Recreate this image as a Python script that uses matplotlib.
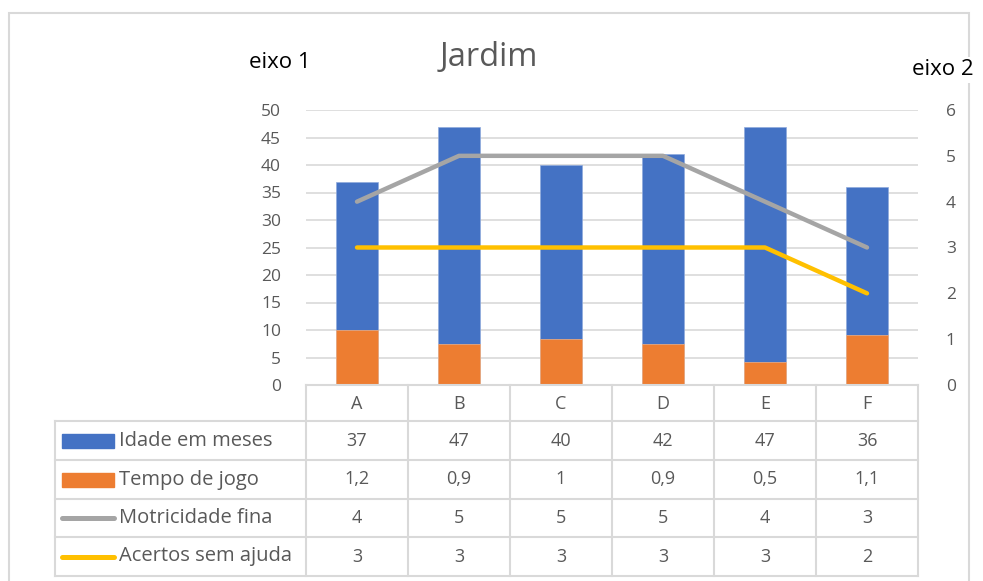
import matplotlib
matplotlib.use("Agg")
import matplotlib.pyplot as plt
from matplotlib.lines import Line2D
from matplotlib.patches import Rectangle

categories = ["A", "B", "C", "D", "E", "F"]
idade = [37, 47, 40, 42, 47, 36]
tempo = [1.2, 0.9, 1, 0.9, 0.5, 1.1]
motricidade = [4, 5, 5, 5, 4, 3]
acertos = [3, 3, 3, 3, 3, 2]
series_names = ["Idade em meses", "Tempo de jogo", "Motricidade fina", "Acertos sem ajuda"]
y1_ticks = list(range(0, 51, 5))
y2_ticks = list(range(0, 7))

BLUE = "#4472C4"
ORANGE = "#ED7D31"
GRAY = "#A5A5A5"
YELLOW = "#FFC000"
TXT = "#595959"
GRID = "#D9D9D9"
FONT = ["Open Sans", "DejaVu Sans"]
plt.rcParams["font.family"] = FONT

W, H = 983, 581
fig = plt.figure(figsize=(W / 100, H / 100), dpi=100)

def fx(px):
    return px / W

def fy(py):
    return 1 - py / H

# outer border
border = fig.add_axes([0, 0, 1, 1], zorder=-5)
border.set_xlim(0, W)
border.set_ylim(H, 0)
border.axis("off")
border.plot([9, 9, 969, 969], [H + 5, 13, 13, H + 5], color="#D9D9D9", lw=1.5,
            solid_joinstyle="miter")

left_px, right_px, top_px, bot_px = 306, 918, 110, 385
ax = fig.add_axes([fx(left_px), fy(bot_px), fx(right_px - left_px), (bot_px - top_px) / H])
x = list(range(len(categories)))
ax.bar(x, idade, width=0.41, color=BLUE, edgecolor="#8FAADC", linewidth=0.5, zorder=2)
ax.set_xlim(-0.5, len(categories) - 0.5)
ax.set_ylim(0, 50)
ax.set_yticks(y1_ticks)
ax.set_xticks([])
ax.grid(axis="y", color=GRID, lw=1.2, zorder=0)
ax.set_axisbelow(True)
for s in ax.spines.values():
    s.set_visible(False)
ax.tick_params(axis="y", length=0, labelsize=12.5, labelcolor=TXT, pad=18)

ax2 = ax.twinx()
ax2.bar(x, tempo, width=0.41, color=ORANGE, edgecolor="#F4B183", linewidth=0.5, zorder=3)
ax2.plot(x, motricidade, color=GRAY, lw=3.2, solid_capstyle="round", zorder=4)
ax2.plot(x, acertos, color=YELLOW, lw=3.2, solid_capstyle="round", zorder=5)
ax2.set_ylim(0, 6)
ax2.set_yticks(y2_ticks)
for s in ax2.spines.values():
    s.set_visible(False)
ax2.tick_params(axis="y", length=0, labelsize=12.5, labelcolor=TXT, pad=20)

fig.text(fx(489), fy(57), "Jardim", ha="center", va="center", fontsize=23.5, color=TXT)
fig.text(fx(280), fy(62), "eixo 1", ha="center", va="center", fontsize=16, color="black")
fig.text(fx(943), fy(70), "eixo 2", ha="center", va="center", fontsize=16, color="black",
         bbox=dict(facecolor="white", edgecolor="none", pad=2))

# data table
tab = fig.add_axes([0, 0, 1, 1], zorder=3)
tab.set_xlim(0, W)
tab.set_ylim(H, 0)
tab.axis("off")
col_w = (right_px - left_px) / len(categories)
table_left = 55
row_edges = [385, 421, 460, 499, 537, 576]
lc = "#D9D9D9"
lw = 1.5
tab.plot([left_px, right_px], [row_edges[0], row_edges[0]], color=lc, lw=lw)
for i in range(len(categories) + 1):
    xx = left_px + i * col_w
    tab.plot([xx, xx], [row_edges[0], row_edges[-1]], color=lc, lw=lw)
tab.plot([table_left, table_left], [row_edges[1], row_edges[-1]], color=lc, lw=lw)
for r in row_edges[1:]:
    tab.plot([table_left, right_px], [r, r], color=lc, lw=lw)
for i, c in enumerate(categories):
    cx = left_px + (i + 0.5) * col_w
    tab.text(cx, (row_edges[0] + row_edges[1]) / 2 + 1, c, ha="center", va="center",
             fontsize=13, color=TXT)

def fmt(v):
    s = ("%g" % v)
    return s.replace(".", ",")

rows = [idade, tempo, motricidade, acertos]
for r, (name, vals) in enumerate(zip(series_names, rows)):
    cy = (row_edges[r + 1] + row_edges[r + 2]) / 2
    if r < 2:
        tab.add_patch(Rectangle((62, cy - 7), 52, 14, color=[BLUE, ORANGE][r]))
    else:
        tab.add_line(Line2D([62, 114], [cy, cy], color=[GRAY, YELLOW][r - 2], lw=3.6,
                            solid_capstyle="round"))
    tab.text(119, cy, name, ha="left", va="center", fontsize=14.5, color=TXT)
    for i, v in enumerate(vals):
        cx = left_px + (i + 0.5) * col_w
        tab.text(cx, cy, fmt(v), ha="center", va="center", fontsize=13, color=TXT)

fig.savefig("out.png", dpi=100)
